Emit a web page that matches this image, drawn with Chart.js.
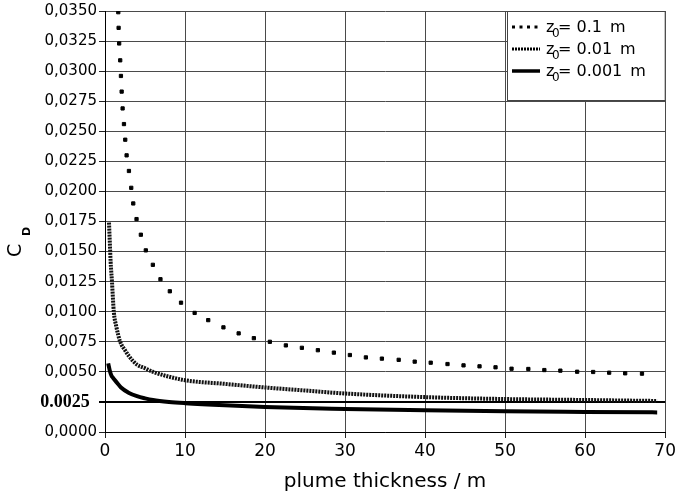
<!DOCTYPE html>
<html>
<head>
<meta charset="utf-8">
<script src="https://cdn.jsdelivr.net/npm/chart.js@4/dist/chart.umd.min.js"></script>
<style>
  html, body { margin: 0; padding: 0; background: #fff; }
  #wrap { width: 679px; height: 494px; }
</style>
</head>
<body>
<div id="wrap"><canvas id="c" width="679" height="494"></canvas></div>
<script>
// ---- data ----
const xTitle = 'plume thickness / m';
const yTitleMain = 'C';
const yTitleSub = 'D';
const legendLabels = ['0.1 m', '0.01 m', '0.001 m'];
const xTicksMin = 0, xTicksMax = 70, xStep = 10;
const yTicksMin = 0, yTicksMax = 0.035, yStep = 0.0025;
const refLineValue = 0.0025;
const refLineLabel = '0.0025';

// z0 = 0.1 m (dotted)
const h1 = [1.66,1.70,1.77,1.90,1.99,2.08,2.20,2.37,2.53,2.70,2.99,3.28,3.53,3.94,4.48,5.1,5.98,6.93,8.1,9.5,11.2,12.9,14.8,16.7,18.6,20.6,22.6,24.6,26.6,28.6,30.6,32.6,34.6,36.7,38.7,40.7,42.8,44.8,46.8,48.8,50.8,52.9,54.9,56.9,59,61,63,65,67.1];
const cd1 = [0.0349,0.0336,0.0323,0.0309,0.0296,0.0283,0.0269,0.0256,0.0243,0.0230,0.0217,0.0203,0.0190,0.0177,0.0164,0.0151,0.0139,0.0127,0.0117,0.01075,0.0099,0.0093,0.0087,0.0082,0.0078,0.0075,0.0072,0.0070,0.0068,0.0066,0.0064,0.0062,0.0061,0.0060,0.00585,0.00576,0.00565,0.00554,0.00546,0.00538,0.00526,0.00524,0.00515,0.0051,0.00501,0.00499,0.00493,0.00488,0.00485];

// z0 = 0.01 m (dense dashed)
const h2 = [0.5,0.6,0.7,0.87,1.1,1.4,1.9,2.5,3,3.5,4,5,6,8,10,15,20,25,30,40,50,60,69];
const cd2 = [0.0174,0.0158,0.0142,0.0125,0.0100,0.0088,0.0075,0.0068,0.0063,0.0059,0.0056,0.0053,0.0050,0.0046,0.0043,0.0040,0.0037,0.00345,0.0032,0.0029,0.00274,0.00266,0.00258];

// z0 = 0.001 m (solid)
const h3 = [0.4,0.6,0.8,1,1.5,2,3,4,5,6,8,10,15,20,30,40,50,60,69];
const cd3 = [0.0057,0.0051,0.0047,0.0045,0.0041,0.0037,0.00325,0.00298,0.0028,0.00266,0.0025,0.0024,0.00222,0.00208,0.00192,0.0018,0.00172,0.00167,0.00163];

const toXY = (xs, ys) => xs.map((x, i) => ({x: x, y: ys[i]}));

const isRef = v => Math.abs(v - refLineValue) < 1e-9;

const legendPlugin = {
  id: 'customLegend',
  afterDraw(chart) {
    const ctx = chart.ctx;
    const ca = chart.chartArea;
    const bx = 507.5, by = ca.top + 0.5, bw = ca.right - 507.5, bh = 89;
    ctx.save();
    ctx.fillStyle = '#fff';
    ctx.fillRect(bx, by, bw, bh);
    ctx.strokeStyle = '#444';
    ctx.lineWidth = 1;
    ctx.strokeRect(bx, by, bw, bh);
    const rows = [27, 49, 71];
    const x0 = 512, x1 = 540;
    rows.forEach((cy, i) => {
      ctx.strokeStyle = '#000';
      ctx.fillStyle = '#000';
      if (i === 0) {
        for (let k = 0; k < 4; k++) ctx.fillRect(x0 + k * 7.5, cy - 1.5, 3, 3);
      } else if (i === 1) {
        ctx.lineWidth = 3;
        ctx.setLineDash([2, 1]);
        ctx.beginPath(); ctx.moveTo(x0, cy); ctx.lineTo(x1, cy); ctx.stroke();
        ctx.setLineDash([]);
      } else {
        ctx.lineWidth = 3.5;
        ctx.beginPath(); ctx.moveTo(x0, cy); ctx.lineTo(x1, cy); ctx.stroke();
      }
      ctx.textBaseline = 'alphabetic';
      ctx.textAlign = 'left';
      ctx.font = '16px "DejaVu Sans"';
      ctx.fillText('z', 546, cy + 5);
      ctx.font = '12px "DejaVu Sans"';
      ctx.fillText('0', 552, cy + 10);
      ctx.font = '16px "DejaVu Sans"';
      ctx.fillText('= ' + legendLabels[i].replace(' m', '\u2002m'), 558, cy + 5);
    });
    ctx.translate(16.5, 257);
    ctx.rotate(-Math.PI / 2);
    ctx.textAlign = 'left';
    ctx.textBaseline = 'middle';
    ctx.font = '19px "DejaVu Sans"';
    ctx.fillText(yTitleMain, 0, 0);
    ctx.font = 'bold 11px "DejaVu Sans"';
    ctx.fillText(yTitleSub, 21, 11);
    ctx.restore();
  }
};

new Chart(document.getElementById('c'), {
  type: 'line',
  data: {
    datasets: [
      {
        label: 'z0= ' + legendLabels[0],
        data: toXY(h1, cd1),
        showLine: false,
        pointStyle: 'rect',
        pointRadius: 2.3,
        pointBorderWidth: 1,
        pointBackgroundColor: '#000',
        pointBorderColor: '#000',
        borderColor: '#000',
        backgroundColor: '#000'
      },
      {
        label: 'z0= ' + legendLabels[1],
        data: toXY(h2, cd2),
        borderColor: '#111',
        borderWidth: 4,
        borderDash: [2, 1],
        pointRadius: 0,
        cubicInterpolationMode: 'monotone',
        fill: false
      },
      {
        label: 'z0= ' + legendLabels[2],
        data: toXY(h3, cd3),
        borderColor: '#000',
        borderWidth: 4,
        pointRadius: 0,
        cubicInterpolationMode: 'monotone',
        fill: false
      }
    ]
  },
  options: {
    responsive: false,
    animation: false,
    devicePixelRatio: 1,
    layout: { padding: { left: 0, right: 12, top: 11, bottom: 0 } },
    plugins: { legend: { display: false }, tooltip: { enabled: false } },
    scales: {
      x: {
        type: 'linear',
        min: xTicksMin, max: xTicksMax,
        ticks: { stepSize: xStep, color: '#000', font: { family: 'DejaVu Sans', size: 17 }, padding: 3, maxRotation: 0 },
        grid: { color: '#4a4a4a', lineWidth: 1, tickLength: 6, tickColor: '#222' },
        border: { color: '#000', width: 1 },
        title: { display: true, text: xTitle, color: '#000', font: { family: 'DejaVu Sans', size: 20 }, padding: { top: 2, bottom: 0 } },
        afterFit(s) { s.height = 62; }
      },
      y: {
        type: 'linear',
        min: yTicksMin, max: yTicksMax,
        ticks: {
          stepSize: yStep,
          color: '#000',
          padding: 2,
          font: (ctx) => (ctx.tick && isRef(ctx.tick.value))
            ? { family: 'Liberation Serif', size: 18, weight: 'bold' }
            : { family: 'DejaVu Sans', size: 15 },
          callback: (v) => isRef(v) ? refLineLabel + '\u2009\u2009' : Number(v).toFixed(4).replace('.', ',')
        },
        grid: {
          color: (ctx) => (ctx.tick && isRef(ctx.tick.value)) ? '#000' : '#4a4a4a',
          lineWidth: (ctx) => (ctx.tick && isRef(ctx.tick.value)) ? 2 : 1,
          tickLength: 6,
          tickColor: (ctx) => (ctx.tick && isRef(ctx.tick.value)) ? '#000' : '#222'
        },
        border: { color: '#000', width: 1 },
        afterFit(s) { s.width = 105; }
      }
    }
  },
  plugins: [legendPlugin]
});
</script>
</body>
</html>
